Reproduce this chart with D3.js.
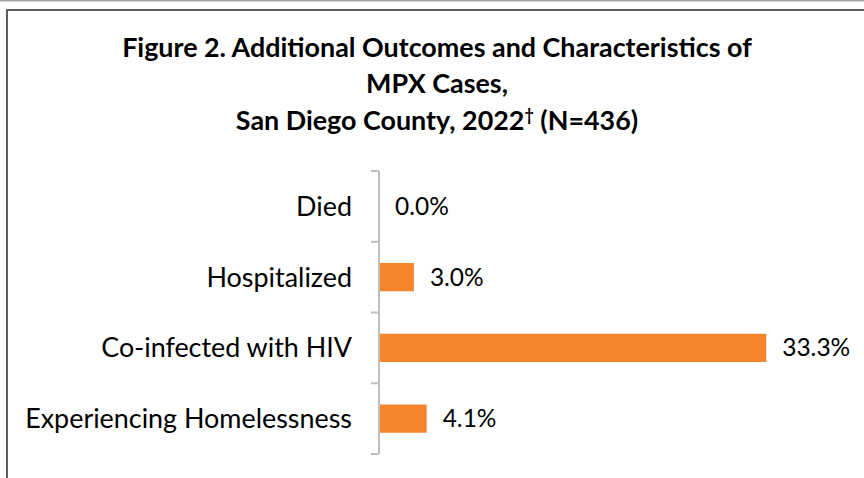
<!DOCTYPE html>
<html><head><meta charset="utf-8">
<script src="https://cdn.jsdelivr.net/npm/d3@7"></script>
<style>html,body{margin:0;padding:0;background:#fff;}svg{display:block;}</style>
</head><body>
<svg id="chart" width="864" height="478"></svg>
<script>
const categories = ["Died", "Hospitalized", "Co-infected with HIV", "Experiencing Homelessness"];
const values = [0.0, 3.0, 33.3, 4.1];
const valueLabels = ["0.0%", "3.0%", "33.3%", "4.1%"];
const titleLines = ["Figure 2. Additional Outcomes and Characteristics of", "MPX Cases,", "San Diego County, 2022"];
const titleSup = "†";
const titleTail = " (N=436)";

const FONT = "Lato, 'Open Sans', sans-serif";
const svg = d3.select("#chart");

// frame
svg.append("line").attr("x1",0).attr("x2",864).attr("y1",0.5).attr("y2",0.5).attr("stroke","#a6a6a6").attr("stroke-width",2);
svg.append("path").attr("d","M7,478 V10 H864").attr("fill","none").attr("stroke","#5f5f5f").attr("stroke-width",2);

function fitSize(text, target, weight, base) {
  const t = svg.append("text").attr("font-family",FONT).attr("font-weight",weight).attr("font-size",base).text(text);
  const w = t.node().getComputedTextLength();
  t.remove();
  return base * target / w;
}

const titleSize = fitSize(titleLines[0], 630, "bold", 22);
const catSize = fitSize(categories[3], 327, "normal", 22);
const valSize = fitSize(valueLabels[2], 68, "normal", 22);

const titleX = 437;
const titleBase = [57, 93, 130];
titleLines.forEach((s,i)=>{
  const t = svg.append("text").attr("x",titleX).attr("y",titleBase[i]).attr("text-anchor","middle")
    .attr("font-family",FONT).attr("font-weight","bold").attr("font-size",titleSize).attr("fill","#000");
  t.append("tspan").text(s);
  if (i===2) {
    t.append("tspan").attr("font-size",titleSize*0.6).attr("dy",-9).text(titleSup);
    t.append("tspan").attr("dy",9).text(titleTail);
  }
});

const y = d3.scaleBand().domain(categories).range([171, 454]).padding(0);
const x = d3.scaleLinear().domain([0, 35]).range([379, 786]);
const barFrac = 0.4;

// bars
svg.selectAll("rect.bar").data(categories).join("rect").attr("class","bar")
  .attr("x", x(0)).attr("y", d=>y(d)+y.bandwidth()*(1-barFrac)/2)
  .attr("width", (d,i)=>x(values[i])-x(0)).attr("height", y.bandwidth()*barFrac)
  .attr("fill","#f5862e");

// axis
const ag = svg.append("g").attr("stroke","#bfbfbf").attr("stroke-width",2);
ag.append("line").attr("x1",x(0)).attr("x2",x(0)).attr("y1",y.range()[0]).attr("y2",y.range()[1]);
const bounds = categories.map(c=>y(c)).concat([y.range()[1]]);
ag.selectAll("line.tick").data(bounds).join("line").attr("class","tick")
  .attr("x1",x(0)-8).attr("x2",x(0)).attr("y1",d=>d).attr("y2",d=>d);

// category labels
svg.selectAll("text.cat").data(categories).join("text").attr("class","cat")
  .attr("x", x(0)-27).attr("y", d=>y(d)+y.bandwidth()/2).attr("dy","0.35em")
  .attr("text-anchor","end").attr("font-family",FONT).attr("font-size",catSize).attr("fill","#000")
  .text(d=>d);

// value labels
svg.selectAll("text.val").data(categories).join("text").attr("class","val")
  .attr("x", (d,i)=>x(values[i])+16).attr("y", d=>y(d)+y.bandwidth()/2).attr("dy","0.35em")
  .attr("font-family",FONT).attr("font-size",valSize).attr("fill","#000")
  .text((d,i)=>valueLabels[i]);
</script>
</body></html>
